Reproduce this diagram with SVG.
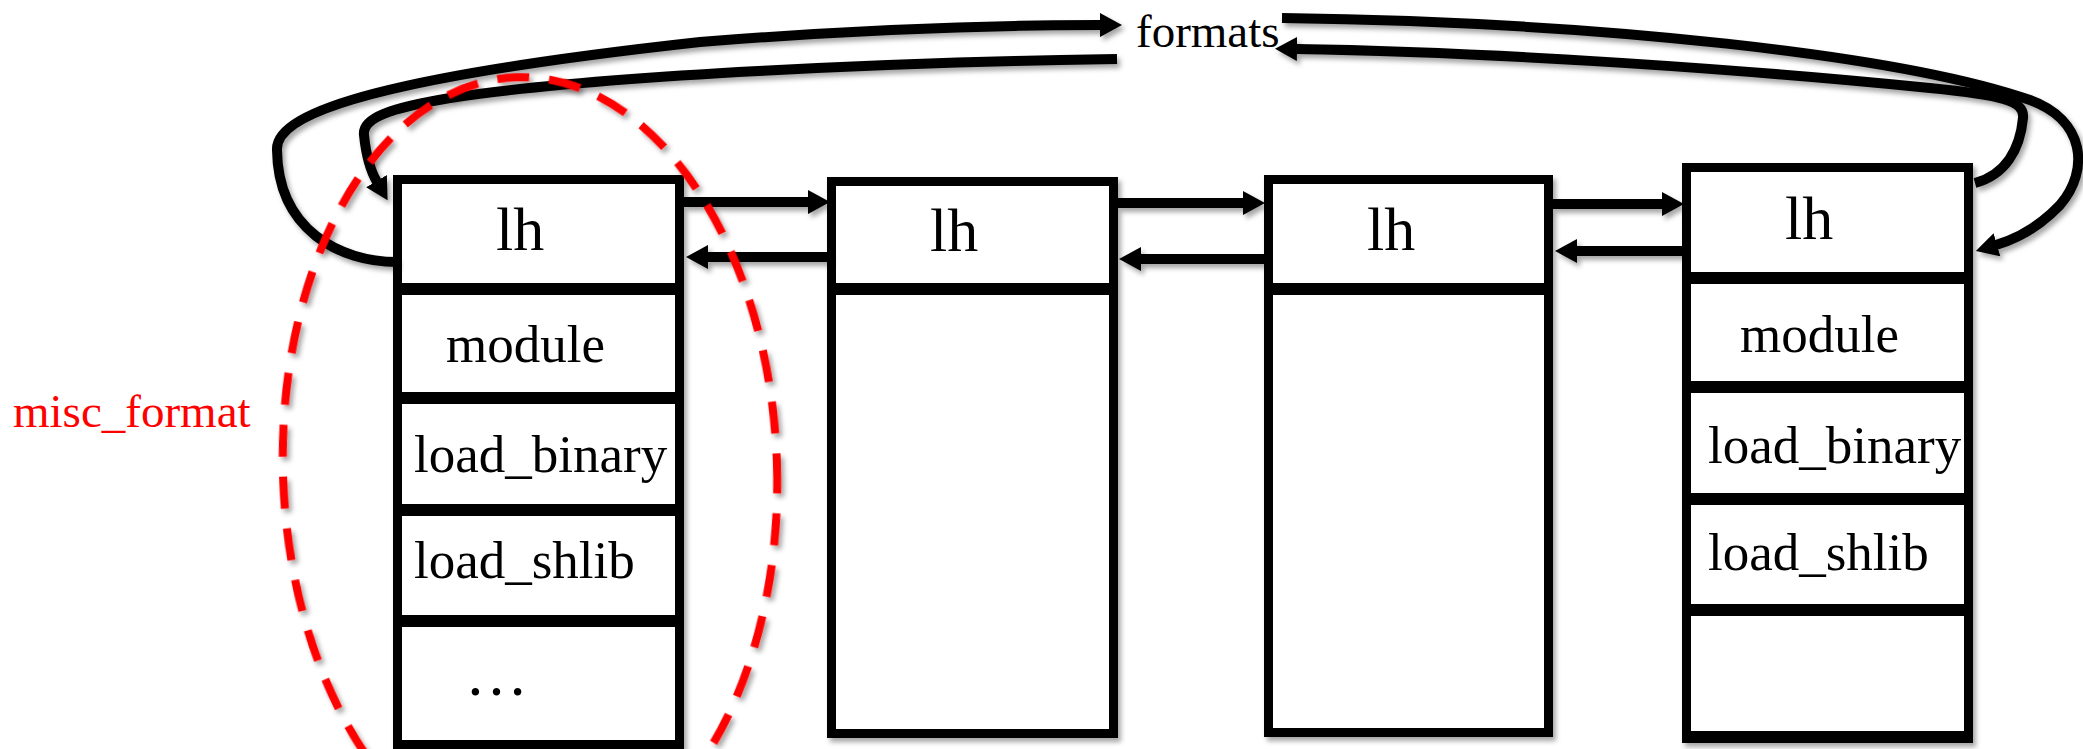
<svg xmlns="http://www.w3.org/2000/svg" width="2083" height="749" viewBox="0 0 2083 749">
<style>
.box{fill:#fff;stroke:#000;stroke-width:9}
.sep{stroke:#000;stroke-width:12}
.con{fill:none;stroke:#000;stroke-width:10}
.t{font-family:"Liberation Serif","Times New Roman",serif;fill:#000}
.lh{font-size:62px}
.f{font-size:53px}
.sh{filter:url(#shadow)}
</style>
<defs>
<filter id="shadow" x="-10%" y="-10%" width="120%" height="120%">
<feDropShadow dx="3" dy="4" stdDeviation="2.5" flood-color="#000" flood-opacity="0.35"/>
</filter>
<marker id="ah" viewBox="0 0 22 24" markerWidth="22" markerHeight="24" refX="1" refY="12" orient="auto" markerUnits="userSpaceOnUse">
<path d="M0,0 L22,12 L0,24 Z" fill="#000"/>
</marker>
</defs>

<g id="box1" class="sh">
<rect class="box" x="397.5" y="179.5" width="282" height="565"/>
<line class="sep" x1="393" y1="289" x2="684" y2="289"/>
<line class="sep" x1="393" y1="398" x2="684" y2="398"/>
<line class="sep" x1="393" y1="510" x2="684" y2="510"/>
<line class="sep" x1="393" y1="621" x2="684" y2="621"/>
</g>
<g id="box1-text">
<text class="t lh" x="496" y="250">lh</text>
<text class="t f" x="446" y="362">module</text>
<text class="t f" x="414" y="472">load_binary</text>
<text class="t f" x="414" y="578">load_shlib</text>
<text class="t" style="font-size:63px" x="465" y="695">…</text>
</g>

<g id="box2">
<g class="sh">
<rect class="box" x="831.5" y="181.5" width="282" height="552"/>
<line class="sep" x1="827" y1="289" x2="1118" y2="289"/>
</g>
<text class="t lh" x="930" y="251">lh</text>
</g>

<g id="box3">
<g class="sh">
<rect class="box" x="1268.5" y="179.5" width="280" height="553"/>
<line class="sep" x1="1264" y1="289" x2="1553" y2="289"/>
</g>
<text class="t lh" x="1367" y="250">lh</text>
</g>

<g id="box4">
<g class="sh">
<rect class="box" x="1686.5" y="167.5" width="282" height="568"/>
<line class="sep" x1="1682" y1="278" x2="1973" y2="278"/>
<line class="sep" x1="1682" y1="387" x2="1973" y2="387"/>
<line class="sep" x1="1682" y1="499" x2="1973" y2="499"/>
<line class="sep" x1="1682" y1="610" x2="1973" y2="610"/>
<line x1="1682" y1="737" x2="1973" y2="737" stroke="#000" stroke-width="12"/>
</g>
<text class="t lh" x="1785" y="239">lh</text>
<text class="t f" x="1740" y="352">module</text>
<text class="t f" x="1708" y="463">load_binary</text>
<text class="t f" x="1708" y="570">load_shlib</text>
</g>

<g id="formats">
<text class="t" style="font-size:47px" x="1136" y="47">formats</text>
</g>

<g id="connectors" class="sh">
<line class="con" x1="684" y1="202" x2="809" y2="202" marker-end="url(#ah)"/>
<line class="con" x1="830" y1="257" x2="707" y2="257" marker-end="url(#ah)"/>
<line class="con" x1="1118" y1="203" x2="1244" y2="203" marker-end="url(#ah)"/>
<line class="con" x1="1264" y1="259" x2="1140" y2="259" marker-end="url(#ah)"/>
<line class="con" x1="1553" y1="204" x2="1663" y2="204" marker-end="url(#ah)"/>
<line class="con" x1="1682" y1="251" x2="1576" y2="251" marker-end="url(#ah)"/>
<path class="con" d="M 397 262 C 340 262, 278 230, 277 150 C 275 110, 400 75, 700 42 C 850 30, 980 25, 1101 25" marker-end="url(#ah)"/>
<path class="con" d="M 1117 59 C 900 62, 600 75, 450 98 C 390 108, 362 118, 364 135 C 366 155, 370 170, 377 182" marker-end="url(#ah)"/>
<path class="con" d="M 1282 18 C 1600 22, 1900 55, 2030 100 C 2085 120, 2090 170, 2060 205 C 2040 226, 2020 238, 1996 245" marker-end="url(#ah)"/>
<path class="con" d="M 1975 183 C 2005 175, 2020 150, 2023 118 C 2025 100, 2000 95, 1930 88 C 1750 70, 1500 52, 1296 49" marker-end="url(#ah)"/>
</g>

<g id="misc_format">
<ellipse class="sh" cx="530" cy="470" rx="247" ry="393" transform="rotate(-2 530 470)" fill="none" stroke="#FF0000" stroke-width="8" stroke-dasharray="32 20"/>
<text class="t" style="font-size:47px;fill:#FF0000" x="13" y="427">misc_format</text>
</g>
</svg>
